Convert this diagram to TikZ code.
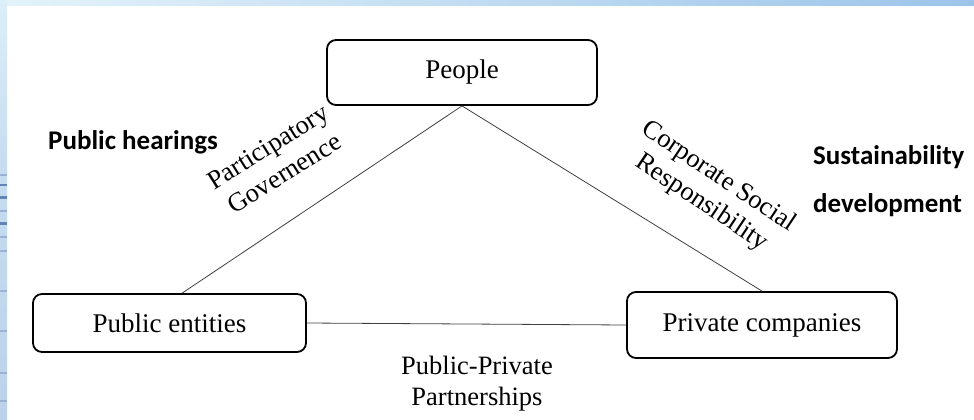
\documentclass[tikz,border=0pt]{standalone}
\usepackage{fontspec}
\setmainfont{Liberation Serif}
\newfontfamily\headfont{Carlito}
\usetikzlibrary{calc}
\definecolor{bandL}{HTML}{E4F3FA}
\definecolor{bandR}{HTML}{9CC4E9}
\definecolor{seaTop}{HTML}{DCEEF8}
\definecolor{seaMid}{HTML}{C6DCEF}
\definecolor{seaLow}{HTML}{BCD2EA}
\definecolor{wave}{HTML}{5F86B6}
\definecolor{waveLight}{HTML}{98B3D4}
\begin{document}
\begin{tikzpicture}[x=1pt,y=-1pt,
  box/.style={draw=black, line width=1.8pt, rounded corners=9pt, inner sep=0pt,
              font=\fontsize{27}{30}\selectfont},
  link/.style={draw=black!75, line width=0.8pt},
  lbl/.style={font=\fontsize{26.5}{31}\selectfont, align=center, inner sep=0pt},
  note/.style={font=\headfont\bfseries\fontsize{27}{30}\selectfont, inner sep=0pt, anchor=base west}]
\useasboundingbox (0,0) rectangle (974,420);
\fill[white] (0,0) rectangle (974,420);

% slide background: gradient band on top, sea strip on the left
\shade[left color=bandL, right color=bandR] (0,0) rectangle (974,6);
\shade[top color=seaTop, bottom color=seaMid] (0,0) rectangle (7,170);
\shade[top color=seaMid, bottom color=seaLow] (0,170) rectangle (7,420);
\foreach \yy/\hh/\cc in {174/2/waveLight,184/2/wave,196/3/wave,210/2/waveLight,222/3/wave,
    236/2/waveLight,250/2/waveLight,290/2/waveLight,330/2/waveLight,372/2/waveLight,400/2/waveLight}
  \fill[\cc] (0,\yy) rectangle (7,\yy+\hh);

% the three actors
\node[box, minimum width=270pt, minimum height=65pt] (people) at (462,72.5) {People};
\node[box, minimum width=273pt, minimum height=58pt] (pub) at (169.5,323) {Public entities};
\node[box, minimum width=270pt, minimum height=66pt] (priv) at (762,325) {Private companies};

% relations between them
\draw[link] (people.south) -- ($(pub.north west)!0.546!(pub.north east)$);
\draw[link] (people.south) -- (priv.north);
\draw[link] (pub.east) -- (priv.west);

% relation labels
\node[lbl, rotate=32] (pg) at (276,160) {Participatory\\Governence};
\node[lbl, rotate=-33.7] (csr) at (710,190) {Corporate Social\\Responsibility};
\node[lbl] (ppp) at (477,384) {Public-Private\\Partnerships};

% headline notes
\node[note] (ph) at (48,149) {Public hearings};
\node[note] (sd1) at (813,164) {Sustainability};
\node[note] (sd2) at (813,212) {development};
\end{tikzpicture}
\end{document}
